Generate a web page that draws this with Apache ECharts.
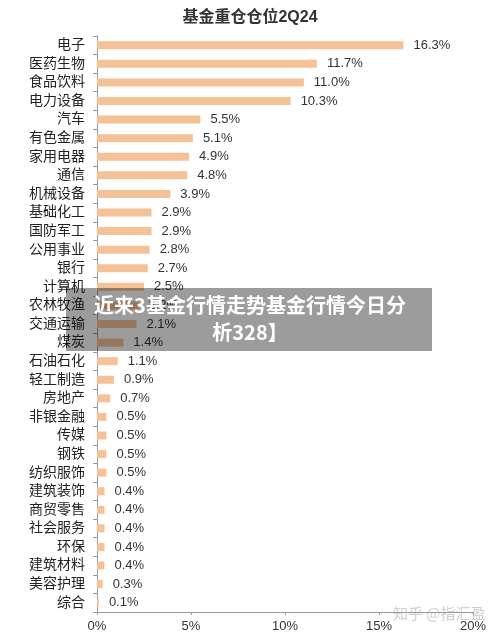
<!DOCTYPE html>
<html>
<head>
<meta charset="utf-8">
<script src="https://cdn.jsdelivr.net/npm/echarts@6/dist/echarts.min.js"></script>
<style>
html,body{margin:0;padding:0;background:#fff;}
#container{width:500px;height:640px;}
</style>
</head>
<body>
<div id="container"></div>
<script>
var industries = ['电子','医药生物','食品饮料','电力设备','汽车','有色金属','家用电器','通信','机械设备','基础化工',
	'国防军工','公用事业','银行','计算机','农林牧渔','交通运输','煤炭','石油石化','轻工制造','房地产',
	'非银金融','传媒','钢铁','纺织服饰','建筑装饰','商贸零售','社会服务','环保','建筑材料','美容护理','综合'];
var weights = [16.3,11.7,11.0,10.3,5.5,5.1,4.9,4.8,3.9,2.9,
	2.9,2.8,2.7,2.5,2.2,2.1,1.4,1.1,0.9,0.7,
	0.5,0.5,0.5,0.5,0.4,0.4,0.4,0.4,0.4,0.3,0.1];
var xTicks = [0,5,10,15,20];

var font = '"Liberation Sans", "Noto Sans CJK SC", sans-serif';
var dom = document.getElementById("container");
var myChart = echarts.init(dom);
var option = {
	backgroundColor: '#fff',
	title: {
		text: '基金重仓仓位2Q24',
		left: 'center',
		top: 5,
		textStyle: {
			fontSize: 16,
			fontWeight: 'bold',
			color: '#333',
			fontFamily: font
		}
	},
	grid: {
		left: 97,
		right: 27,
		top: 36,
		bottom: 28
	},
	xAxis: {
		type: 'value',
		min: xTicks[0],
		max: xTicks[xTicks.length - 1],
		interval: 5,
		splitLine: { show: false },
		axisLine: { show: true, lineStyle: { color: '#999' } },
		axisTick: { show: true, length: 3, lineStyle: { color: '#999' } },
		axisLabel: {
			formatter: '{value}%',
			color: '#333',
			fontSize: 13,
			margin: 8,
			fontFamily: font
		}
	},
	yAxis: {
		type: 'category',
		data: industries,
		inverse: true,
		axisLine: { show: true, lineStyle: { color: '#999' } },
		axisTick: { show: true, length: 4, lineStyle: { color: '#999' } },
		axisLabel: {
			color: '#222',
			fontSize: 14,
			margin: 12,
			fontFamily: font
		}
	},
	series: [{
		name: '仓位',
		type: 'bar',
		data: weights,
		barWidth: 8,
		itemStyle: { color: '#F5C197' },
		label: {
			show: true,
			position: 'right',
			distance: 10,
			color: '#333',
			fontSize: 13,
			fontFamily: font,
			formatter: function(p) { return p.value.toFixed(1) + '%'; }
		}
	}],
	graphic: [{
		type: 'rect',
		left: 66,
		top: 288,
		shape: { width: 366, height: 63 },
		style: { fill: 'rgba(0,0,0,0.39)' },
		z: 100
	}, {
		type: 'text',
		left: 'center',
		top: 292,
		style: {
			text: '近来3基金行情走势基金行情今日分\n析328】',
			fill: '#fff',
			font: 'bold 20px "Noto Sans CJK SC", sans-serif',
			textAlign: 'center',
			lineHeight: 27
		},
		z: 101
	}, {
		type: 'text',
		left: 393,
		top: 606,
		style: {
			text: '知乎 @指汇盈',
			fill: 'rgba(160,160,160,0.5)',
			font: '15px "Noto Sans CJK SC", sans-serif'
		},
		z: 100
	}]
};
if(option && typeof option === "object") {
	myChart.setOption(option, true);
}
</script>
</body>
</html>
